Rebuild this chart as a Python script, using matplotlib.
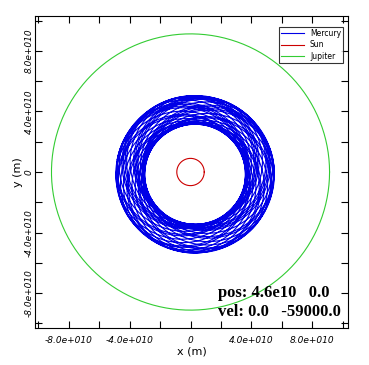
import numpy as np
import matplotlib
matplotlib.use("Agg")
import matplotlib.pyplot as plt
from matplotlib.ticker import MultipleLocator

# orbit parameters (metres)
sun_radius = 0.9e10
sun_center = (0.0, 0.0)
jupiter_radius = 9.12e10
jupiter_center = (0.0, 0.0)
mercury_periapsis = 3.3e10
mercury_apoapsis = 5.2e10
mercury_center = (0.3e10, -0.15e10)
mercury_loops = 30
mercury_precession = 4.47  # turns of the orbit axis over the whole run

xlim = (-1.02e11, 1.033e11)
ylim = (-1.03e11, 1.03e11)
tick_values = [-8e10, -4e10, 0, 4e10, 8e10]
tick_labels = ["-8.0e+010", "-4.0e+010", "0", "4.0e+010", "8.0e+010"]
info_lines = ["pos: 4.6e10   0.0", "vel: 0.0   -59000.0"]


def circle(center, radius, n=400):
    t = np.linspace(0, 2 * np.pi, n)
    return center[0] + radius * np.cos(t), center[1] + radius * np.sin(t)


def precessing_orbit(center, rp, ra, loops, turns, n=12000):
    a = (rp + ra) / 2
    c = (ra - rp) / 2
    b = np.sqrt(a * a - c * c)
    E = np.linspace(0, 2 * np.pi * loops, n)
    x0 = a * np.cos(E) + c
    y0 = b * np.sin(E)
    w = 2 * np.pi * turns * E / E[-1]
    x = x0 * np.cos(w) - y0 * np.sin(w)
    y = x0 * np.sin(w) + y0 * np.cos(w)
    return center[0] + x, center[1] + y


fig = plt.figure(figsize=(3.69, 3.65), dpi=100)
ax = fig.add_axes([35 / 369, 1 - 328 / 365, 313 / 369, 312 / 365])

mx, my = precessing_orbit(mercury_center, mercury_periapsis, mercury_apoapsis,
                          mercury_loops, mercury_precession)
ax.plot(mx, my, color="#0000e6", lw=0.8, label="Mercury")
sx, sy = circle(sun_center, sun_radius)
ax.plot(sx, sy, color="#cc0000", lw=0.8, label="Sun")
jx, jy = circle(jupiter_center, jupiter_radius)
ax.plot(jx, jy, color="#33cc33", lw=0.8, label="Jupiter")

ax.set_xlim(xlim)
ax.set_ylim(ylim)
ax.set_xticks(tick_values)
ax.set_xticklabels(tick_labels)
ax.set_yticks(tick_values)
ax.set_yticklabels(tick_labels, rotation=90, va="center")
ax.xaxis.set_minor_locator(MultipleLocator(2e10))
ax.yaxis.set_minor_locator(MultipleLocator(2e10))
ax.tick_params(which="both", direction="in", length=5, width=0.8,
               top=True, right=True, labelsize=6.5)
ax.tick_params(axis="x", pad=6)
ax.tick_params(axis="y", pad=1)
for lab in ax.get_xticklabels() + ax.get_yticklabels():
    lab.set_fontstyle("italic")
for s in ax.spines.values():
    s.set_linewidth(0.8)

ax.set_xlabel("x (m)", fontsize=8, labelpad=1)
ax.set_ylabel("y (m)", fontsize=8, labelpad=1)

leg = ax.legend(loc="upper right", fontsize=5.5, frameon=True, fancybox=False,
                edgecolor="black", borderaxespad=0.6, handlelength=3,
                labelspacing=0.3, borderpad=0.3, bbox_to_anchor=(1.0, 0.98))
leg.get_frame().set_linewidth(0.8)

ax.text(0.585, 0.10, info_lines[0], transform=ax.transAxes, fontsize=12,
        fontweight="bold", family="Liberation Serif")
ax.text(0.585, 0.038, info_lines[1], transform=ax.transAxes, fontsize=12,
        fontweight="bold", family="Liberation Serif")

fig.savefig("out.png", dpi=100)
